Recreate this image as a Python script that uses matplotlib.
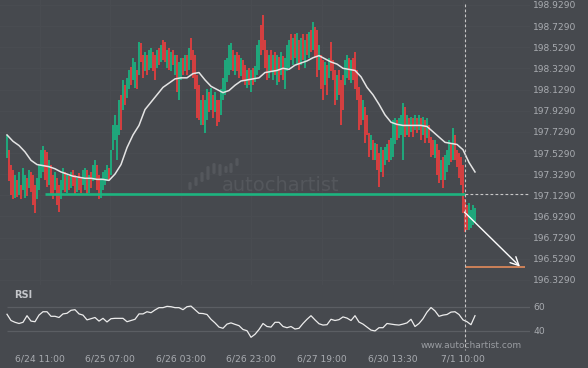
import matplotlib
matplotlib.use("Agg")
import matplotlib.pyplot as plt
from matplotlib.lines import Line2D
from matplotlib.patches import FancyBboxPatch
import numpy as np

# ---------------- data ----------------
highs = [
    197.70, 197.56, 197.42, 197.37, 197.32, 197.27, 197.35, 197.23, 197.39, 197.32,
    197.29, 197.37, 197.35, 197.32, 197.23, 197.29, 197.42, 197.56, 197.60, 197.56,
    197.54, 197.46, 197.42, 197.32, 197.35, 197.29, 197.23, 197.27, 197.39, 197.35,
    197.32, 197.31, 197.35, 197.37, 197.32, 197.29, 197.34, 197.29, 197.37, 197.39,
    197.37, 197.32, 197.35, 197.42, 197.46, 197.42, 197.32, 197.29, 197.35, 197.37,
    197.42, 197.39, 197.56, 197.79, 197.89, 197.79, 198.03, 198.08, 198.22, 198.17,
    198.24, 198.31, 198.34, 198.43, 198.39, 198.31, 198.58, 198.57, 198.46, 198.48,
    198.46, 198.50, 198.52, 198.48, 198.46, 198.50, 198.52, 198.55, 198.60, 198.58,
    198.50, 198.52, 198.48, 198.50, 198.46, 198.46, 198.39, 198.43, 198.43, 198.46,
    198.46, 198.52, 198.62, 198.50, 198.46, 198.27, 198.17, 198.03, 198.08, 198.03,
    198.13, 198.11, 198.14, 198.08, 198.11, 198.03, 198.03, 198.13, 198.24, 198.41,
    198.43, 198.55, 198.57, 198.50, 198.46, 198.48, 198.46, 198.43, 198.41, 198.36,
    198.31, 198.33, 198.31, 198.33, 198.35, 198.55, 198.60, 198.74, 198.83, 198.60,
    198.50, 198.46, 198.50, 198.46, 198.48, 198.46, 198.44, 198.48, 198.45, 198.43,
    198.55, 198.60, 198.65, 198.62, 198.65, 198.66, 198.60, 198.62, 198.65, 198.60,
    198.65, 198.67, 198.69, 198.77, 198.72, 198.69, 198.55, 198.46, 198.41, 198.39,
    198.36, 198.43, 198.58, 198.41, 198.31, 198.27, 198.31, 198.22, 198.27, 198.41,
    198.46, 198.43, 198.41, 198.43, 198.48, 198.31, 198.15, 198.08, 198.03, 197.96,
    197.89, 197.72, 197.70, 197.65, 197.62, 197.61, 197.53, 197.59, 197.56, 197.59,
    197.61, 197.65, 197.67, 197.84, 197.86, 197.84, 197.86, 197.89, 198.00, 197.96,
    197.89, 197.86, 197.87, 197.86, 197.89, 197.86, 197.89, 197.86, 197.87, 197.84,
    197.86, 197.79, 197.68, 197.65, 197.65, 197.61, 197.56, 197.46, 197.49, 197.51,
    197.56, 197.65, 197.61, 197.77, 197.70, 197.56, 197.53, 197.49, 197.42, 197.09,
    197.04, 197.06, 196.99, 197.04, 197.01,
]
lows = [
    197.48, 197.26, 197.13, 197.09, 197.10, 197.11, 197.13, 197.09, 197.18, 197.10,
    197.12, 197.20, 197.16, 197.04, 196.96, 197.09, 197.18, 197.29, 197.35, 197.27,
    197.21, 197.23, 197.13, 197.09, 197.18, 197.04, 196.97, 197.09, 197.18, 197.16,
    197.15, 197.18, 197.20, 197.22, 197.13, 197.16, 197.18, 197.15, 197.23, 197.18,
    197.13, 197.15, 197.20, 197.26, 197.27, 197.18, 197.09, 197.10, 197.18, 197.23,
    197.26, 197.27, 197.32, 197.56, 197.65, 197.46, 197.70, 197.75, 197.94, 197.98,
    198.05, 198.13, 198.17, 198.22, 198.14, 198.13, 198.27, 198.39, 198.24, 198.30,
    198.27, 198.31, 198.33, 198.30, 198.22, 198.33, 198.36, 198.39, 198.41, 198.39,
    198.33, 198.31, 198.30, 198.36, 198.27, 198.11, 198.03, 198.22, 198.27, 198.30,
    198.27, 198.31, 198.41, 198.24, 198.13, 197.86, 197.84, 197.79, 197.79, 197.72,
    197.84, 197.92, 197.94, 197.86, 197.92, 197.78, 197.82, 197.89, 198.03, 198.08,
    198.20, 198.27, 198.31, 198.30, 198.27, 198.30, 198.24, 198.26, 198.22, 198.17,
    198.14, 198.17, 198.11, 198.17, 198.20, 198.27, 198.31, 198.46, 198.50, 198.33,
    198.22, 198.24, 198.30, 198.22, 198.27, 198.17, 198.20, 198.27, 198.22, 198.13,
    198.30, 198.33, 198.41, 198.36, 198.43, 198.36, 198.31, 198.36, 198.41, 198.33,
    198.46, 198.43, 198.48, 198.50, 198.44, 198.25, 198.31, 198.13, 198.03, 198.17,
    198.08, 198.24, 198.30, 198.22, 197.98, 198.03, 198.08, 197.79, 197.94, 198.17,
    198.24, 198.22, 198.19, 198.22, 198.13, 198.03, 197.75, 197.79, 197.84, 197.62,
    197.70, 197.49, 197.56, 197.46, 197.46, 197.37, 197.21, 197.35, 197.30, 197.42,
    197.46, 197.44, 197.46, 197.49, 197.61, 197.65, 197.67, 197.70, 197.46, 197.68,
    197.70, 197.68, 197.73, 197.68, 197.75, 197.72, 197.75, 197.65, 197.70, 197.62,
    197.67, 197.62, 197.49, 197.51, 197.48, 197.32, 197.25, 197.27, 197.20, 197.27,
    197.35, 197.42, 197.44, 197.46, 197.46, 197.40, 197.29, 197.23, 196.96, 196.78,
    196.80, 196.80, 196.82, 196.85, 196.88,
]
# G = bullish candle, R = bearish candle
direction = ("GRRRGRGRGGRGRRRGGGGR" "RGRRGRRGGRGRGRRGRRGG" "RGRGGRRGGGGRGGGGGRGR"
             "GGRGGRGRRGRGGRRGRGRR" "GRGRGRGGRGRGRRRRRGRG" "GRGRGRRGGGGGGRGRRGRR"
             "GRGRGGGRRRRGRGRGRGRG" "GGRGRGRGRGRGRGRRGRRG" "RGRRRGRRRGGRGRRRRRGR"
             "RRGRGRRGRGGRGGGRGGGR" "GRGRGRGRGRGRRRGRRGRG" "GGRGRRRRRRRGGGG")

# moving average, one value every 3 candles
ma_step = 3
moving_avg = [
    197.70, 197.64, 197.60, 197.54, 197.46, 197.42, 197.41, 197.40, 197.38, 197.35,
    197.33, 197.31, 197.30, 197.29, 197.29, 197.28, 197.28, 197.27, 197.33, 197.42,
    197.58, 197.70, 197.79, 197.94, 198.01, 198.08, 198.15, 198.19, 198.23, 198.24,
    198.24, 198.28, 198.29, 198.22, 198.16, 198.13, 198.10, 198.12, 198.17, 198.21,
    198.22, 198.23, 198.24, 198.29, 198.30, 198.31, 198.33, 198.32, 198.36, 198.38,
    198.40, 198.43, 198.45, 198.42, 198.39, 198.37, 198.33, 198.32, 198.31, 198.25,
    198.15, 198.08, 197.99, 197.89, 197.82, 197.80, 197.79, 197.79, 197.79, 197.79,
    197.78, 197.73, 197.68, 197.63, 197.62, 197.61, 197.56, 197.44, 197.35,
]

# RSI, one value every 2 candles
rsi_step = 2
rsi = [
    53.7, 48.5, 47.0, 46.0, 47.0, 52.5, 48.0, 47.5, 53.0, 55.8,
    55.8, 52.0, 52.0, 51.0, 54.0, 54.5, 57.0, 57.5, 54.0, 53.0,
    49.0, 50.0, 51.0, 48.0, 50.3, 47.3, 50.0, 50.3, 50.3, 50.3,
    47.5, 48.5, 49.5, 54.0, 54.0, 55.8, 55.0, 57.3, 59.2, 59.2,
    60.3, 60.0, 59.2, 59.2, 57.5, 60.0, 60.5, 57.5, 54.5, 54.3,
    53.5, 49.5, 46.5, 43.0, 42.0, 45.5, 46.5, 45.3, 44.2, 41.0,
    40.0, 34.5, 37.0, 41.0, 46.0, 43.5, 43.0, 47.0, 47.0, 43.5,
    42.5, 43.5, 41.4, 42.0, 46.0, 49.5, 52.5, 49.0, 45.8, 44.7,
    45.0, 49.5, 48.5, 49.2, 51.5, 50.5, 48.5, 52.5, 47.2, 45.5,
    43.0, 40.5, 39.8, 42.5, 42.5, 46.0, 45.5, 45.0, 44.7, 45.5,
    46.5, 49.5, 43.5, 46.0, 50.0, 55.5, 59.3, 56.5, 52.0, 53.0,
    53.5, 55.5, 55.8, 53.5, 49.0, 47.5, 45.0, 52.5,
]

price_ticks = [198.929, 198.729, 198.529, 198.329, 198.129, 197.929, 197.729,
               197.529, 197.329, 197.129, 196.929, 196.729, 196.529, 196.329]
rsi_ticks = [60, 40]
time_labels = ["6/24 11:00", "6/25 07:00", "6/26 03:00", "6/26 23:00",
               "6/27 19:00", "6/30 13:30", "7/1 10:00"]
time_label_idx = [16.5, 51.5, 87.0, 122.0, 157.5, 193.0, 228.0]

support_level = 197.14
support_start_idx = 19
breakout_idx = 228.75
forecast_start = (228.75, 196.97)
forecast_end = (256.5, 196.455)
target_level = 196.45
target_end_idx = 259

# ---------------- style ----------------
BG = "#46494e"
GRID = "#4a4d52"
TXT = "#a9acb1"
GREEN = "#14c389"
RED = "#ff3c3c"

W, H = 588, 368
fig = plt.figure(figsize=(W / 100, H / 100), dpi=100, facecolor=BG)

def frac_box(x0, y0, x1, y1):
    return [x0 / W, 1 - y1 / H, (x1 - x0) / W, (y1 - y0) / H]

ax = fig.add_axes(frac_box(0, 0, 530, 285))
rax = fig.add_axes(frac_box(0, 295, 530, 345))

n = len(highs)
idx = np.arange(n)
xlim = (-3.5, 261.5)

for a in (ax, rax):
    a.set_facecolor(BG)
    for s in a.spines.values():
        s.set_visible(False)
    a.set_xlim(*xlim)

# main panel
ax.set_ylim(196.281, 198.976)
ax.set_yticks(price_ticks)
ax.set_yticklabels([f"{v:.4f}" for v in price_ticks])
ax.yaxis.tick_right()
ax.tick_params(axis="y", length=0, pad=2.3, labelsize=6.6, labelcolor=TXT)
ax.set_xticks(time_label_idx)
ax.tick_params(axis="x", length=0, labelbottom=False)
ax.grid(True, color=GRID, lw=0.7)
ax.set_axisbelow(True)

# watermark logo
fig.text(222 / W, 1 - 191 / H, "autochartist", fontsize=14, color="#54575c",
         ha="left", va="baseline", zorder=0)
logo_bars = [(190, 182, 190), (196, 177, 186), (202, 172, 182), (208, 166, 180),
             (214, 163, 174), (220, 164, 176), (226, 166, 173), (231, 163, 173),
             (237, 158, 166)]
for bx, t, b in logo_bars:
    fig.patches.append(FancyBboxPatch(((bx - 1.6) / W, 1 - b / H), 3.2 / W, (b - t) / H,
                                      boxstyle="round,pad=0,rounding_size=0.003",
                                      transform=fig.transFigure, fc="#54575c", ec="none",
                                      zorder=0))

colors = [GREEN if d == "G" else RED for d in direction]
ax.vlines(idx, lows, highs, colors=colors, lw=1.1, zorder=3)

ma_idx = np.arange(len(moving_avg)) * ma_step
ax.plot(ma_idx, moving_avg, color="#e4e4e4", lw=1.1, zorder=4)

ax.hlines(support_level, support_start_idx, breakout_idx, color="#1db47f", lw=1.9, zorder=5)
ax.hlines(support_level, breakout_idx, xlim[1], color="#c8c8c8", lw=0.8,
          linestyles=(0, (2.5, 2)), zorder=5)
ax.hlines(target_level, breakout_idx, target_end_idx, color="#f0905c", lw=1.1, zorder=5)
ax.annotate("", xy=forecast_end, xytext=forecast_start,
            arrowprops=dict(arrowstyle="->,head_length=0.6,head_width=0.3",
                            color="white", lw=1.0, shrinkA=0, shrinkB=0), zorder=6)

# RSI panel
rax.set_ylim(28.08, 69.75)
rax.set_yticks(rsi_ticks)
rax.set_yticklabels([str(v) for v in rsi_ticks])
rax.yaxis.tick_right()
rax.tick_params(axis="y", length=0, pad=2.3, labelsize=6.6, labelcolor=TXT)
rax.hlines(rsi_ticks, 0, xlim[1], color="#5b5e63", lw=0.9, zorder=1)
rsi_idx = np.arange(len(rsi)) * rsi_step
rax.plot(rsi_idx, rsi, color="#ececec", lw=0.9, zorder=3)
rax.set_xticks(time_label_idx)
rax.set_xticklabels(time_labels)
rax.tick_params(axis="x", length=0, pad=6.5, labelsize=6.6, labelcolor=TXT)
rax.text(0.012 + 9 / W, 1.0, "RSI", transform=rax.transAxes, fontsize=7,
         fontweight="bold", color="#c4c6ca", ha="left", va="center")
fig.text(421 / W, 1 - 345 / H, "www.autochartist.com", fontsize=6.5, color="#9a9da2",
         ha="left", va="center")

# vertical dashed line at breakout through both panels
fig.canvas.draw()
xd = ax.transData.transform((breakout_idx, 0))[0] / W
fig.lines.append(Line2D([xd, xd], [1 - 4 / H, 1 - 350 / H], transform=fig.transFigure,
                        color="#c8c8c8", lw=0.8, linestyle=(0, (2.5, 2)), zorder=10))

fig.savefig("out.png", dpi=100, facecolor=BG)
